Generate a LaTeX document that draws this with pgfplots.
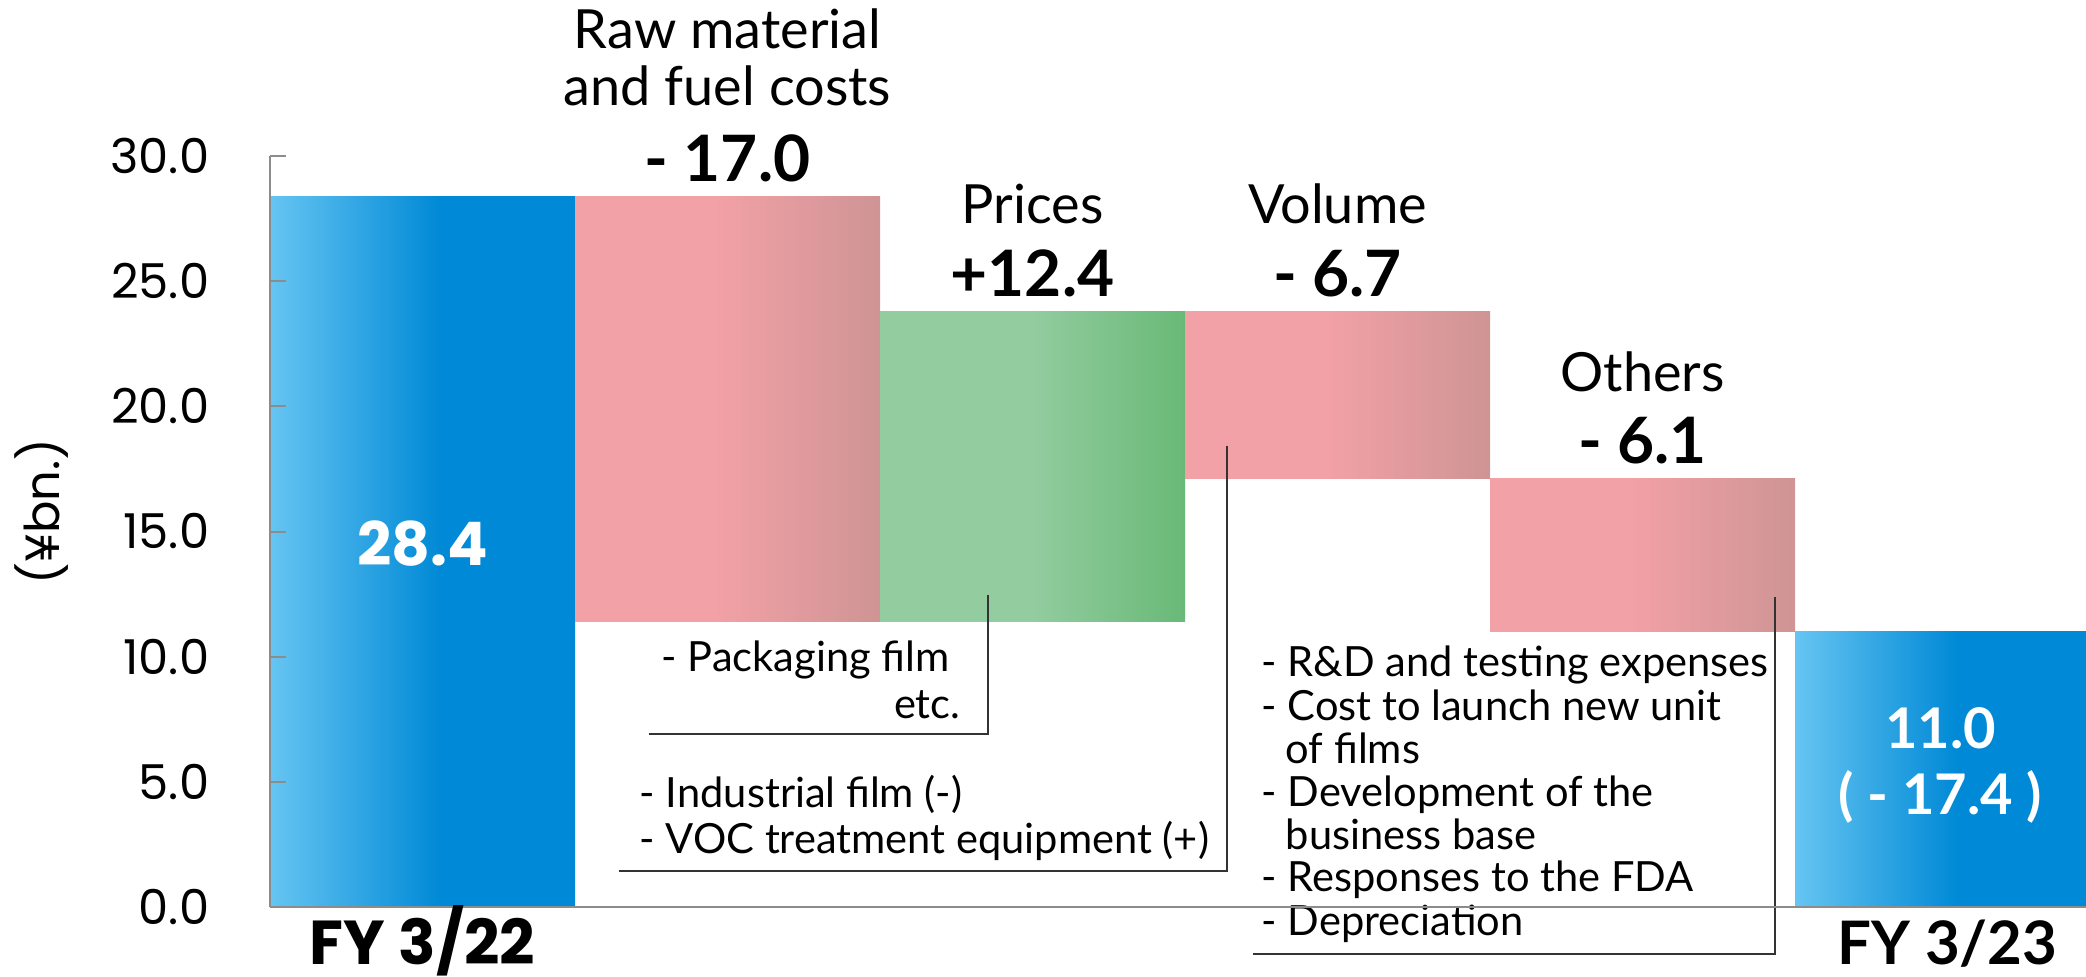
\documentclass[border=0pt]{standalone}
\usepackage{fontspec}
\setmainfont{Lato}
\newfontfamily\geo{Poppins}
\usepackage{pgfplots}
\pgfplotsset{compat=1.18}
\definecolor{blL}{HTML}{66C5F2}
\definecolor{blD}{HTML}{0089D6}
\definecolor{pkL}{HTML}{F2A1A6}
\definecolor{pkD}{HTML}{CF9494}
\definecolor{gnL}{HTML}{92CC9F}
\definecolor{gnD}{HTML}{69B977}
\definecolor{axgray}{HTML}{8C8C8C}
\definecolor{ann}{HTML}{333333}
\pgfdeclarehorizontalshading{blueS}{100bp}{color(0bp)=(blL); color(25bp)=(blL); color(53bp)=(blD); color(100bp)=(blD)}
\pgfdeclarehorizontalshading{pinkS}{100bp}{color(0bp)=(pkL); color(25bp)=(pkL); color(48bp)=(pkL); color(75bp)=(pkD); color(100bp)=(pkD)}
\pgfdeclarehorizontalshading{greenS}{100bp}{color(0bp)=(gnL); color(25bp)=(gnL); color(50bp)=(gnL); color(75bp)=(gnD); color(100bp)=(gnD)}
\begin{document}
\begin{tikzpicture}
\begin{axis}[
  name=ax,
  scale only axis,
  width=454pt, height=187.75pt,
  xmin=-0.5, xmax=5.454,
  ymin=0, ymax=30,
  clip=false,
  axis on top,
  axis x line=bottom, axis y line=left,
  x axis line style={-, draw=axgray, line width=0.5pt},
  y axis line style={-, draw=axgray, line width=0.5pt},
  ytick={0,5,10,15,20,25,30},
  tick align=inside,
  ytick style={draw=axgray, line width=0.5pt},
  major tick length=4pt,
  xtick={0,5},
  xticklabels={{\raisebox{0pt}[\height][0pt]{\geo\bfseries\fontsize{15.5}{17}\selectfont FY 3/22}},{\raisebox{0pt}[\height][0pt]{\bfseries\fontsize{15}{17}\selectfont FY 3/23}}},
  x tick style={draw=none},
  xticklabel style={anchor=base, yshift=-14.4pt, inner sep=0pt},
  /pgf/number format/.cd, fixed, fixed zerofill, precision=1, assume math mode=true,
  /pgfplots/.cd,
  yticklabel style={font=\geo\fontsize{12}{14}\selectfont, anchor=east, xshift=-15pt, inner sep=0pt},
]
% bars: FY 3/22, raw material, prices, volume, others, FY 3/23
\addplot[draw=none, shade, shading=blueS] coordinates {(-0.5,0) (0.5,0) (0.5,28.4) (-0.5,28.4)} -- cycle;
\addplot[draw=none, shade, shading=pinkS] coordinates {(0.5,11.4) (1.5,11.4) (1.5,28.4) (0.5,28.4)} -- cycle;
\addplot[draw=none, shade, shading=greenS] coordinates {(1.5,11.4) (2.5,11.4) (2.5,23.8) (1.5,23.8)} -- cycle;
\addplot[draw=none, shade, shading=pinkS] coordinates {(2.5,17.1) (3.5,17.1) (3.5,23.8) (2.5,23.8)} -- cycle;
\addplot[draw=none, shade, shading=pinkS] coordinates {(3.5,11.0) (4.5,11.0) (4.5,17.1) (3.5,17.1)} -- cycle;
\addplot[draw=none, shade, shading=blueS] coordinates {(4.5,0) (5.454,0) (5.454,11.0) (4.5,11.0)} -- cycle;
% leader lines
\addplot[ann, line width=0.4pt] coordinates {(1.854,12.47) (1.854,6.91) (0.743,6.91)};
\addplot[ann, line width=0.4pt] coordinates {(2.638,18.42) (2.638,1.44) (0.644,1.44)};
\addplot[ann, line width=0.4pt] coordinates {(4.434,12.39) (4.434,-1.88) (2.723,-1.88)};
% y label
\node[rotate=90, anchor=center, inner sep=0pt, font=\geo\fontsize{12}{14}\selectfont] at ([xshift=-57pt]axis cs:-0.5,15.8) {(¥bn.)};
% headings
\begin{scope}[every node/.style={anchor=base, inner sep=0pt}]
\node[font=\fontsize{13.5}{15}\selectfont] at (axis cs:1,34.3) {Raw material};
\node[font=\fontsize{13.5}{15}\selectfont] at (axis cs:1,32.0) {and fuel costs};
\node[font=\bfseries\fontsize{16}{18}\selectfont] at (axis cs:1,29.0) {- 17.0};
\node[font=\fontsize{13.5}{15}\selectfont] at (axis cs:2,27.3) {Prices};
\node[font=\bfseries\fontsize{16}{18}\selectfont] at (axis cs:2,24.4) {+12.4};
\node[font=\fontsize{13.5}{15}\selectfont] at (axis cs:3,27.3) {Volume};
\node[font=\bfseries\fontsize{16}{18}\selectfont] at (axis cs:3,24.4) {- 6.7};
\node[font=\fontsize{13.5}{15}\selectfont] at (axis cs:4,20.6) {Others};
\node[font=\bfseries\fontsize{16}{18}\selectfont] at (axis cs:4,17.7) {- 6.1};
\node[font=\geo\bfseries\fontsize{15}{17}\selectfont, text=white] at (axis cs:0,13.66) {28.4};
\node[font=\bfseries\fontsize{14}{16}\selectfont, text=white] at (axis cs:4.977,6.35) {11.0};
\node[font=\bfseries\fontsize{14}{16}\selectfont, text=white] at (axis cs:4.977,3.7) {( - 17.4 )};
\end{scope}
% annotation texts
\begin{scope}[every node/.style={anchor=base west, inner sep=0pt, font=\fontsize{10.4}{12}\selectfont}]
\node at (axis cs:0.782,9.39) {- Packaging film};
\node[anchor=base east] at (axis cs:1.766,7.55) {etc.};
\node at (axis cs:0.710,3.96) {- Industrial film (-)};
\node at (axis cs:0.710,2.12) {- VOC treatment equipment (+)};
\node at (axis cs:2.749,9.19) {- R\&D and testing expenses};
\node at (axis cs:2.749,7.47) {- Cost to launch new unit};
\node at (axis cs:2.828,5.75) {of films};
\node at (axis cs:2.749,4.03) {- Development of the};
\node at (axis cs:2.828,2.31) {business base};
\node at (axis cs:2.749,0.60) {- Responses to the FDA};
\node at (axis cs:2.749,-1.12) {- Depreciation};
\end{scope}
\end{axis}
\pgfresetboundingbox
\path[use as bounding box] ([xshift=-67.5pt,yshift=-17.25pt]ax.south west) rectangle ([yshift=39pt]ax.north east);
\end{tikzpicture}
\end{document}
